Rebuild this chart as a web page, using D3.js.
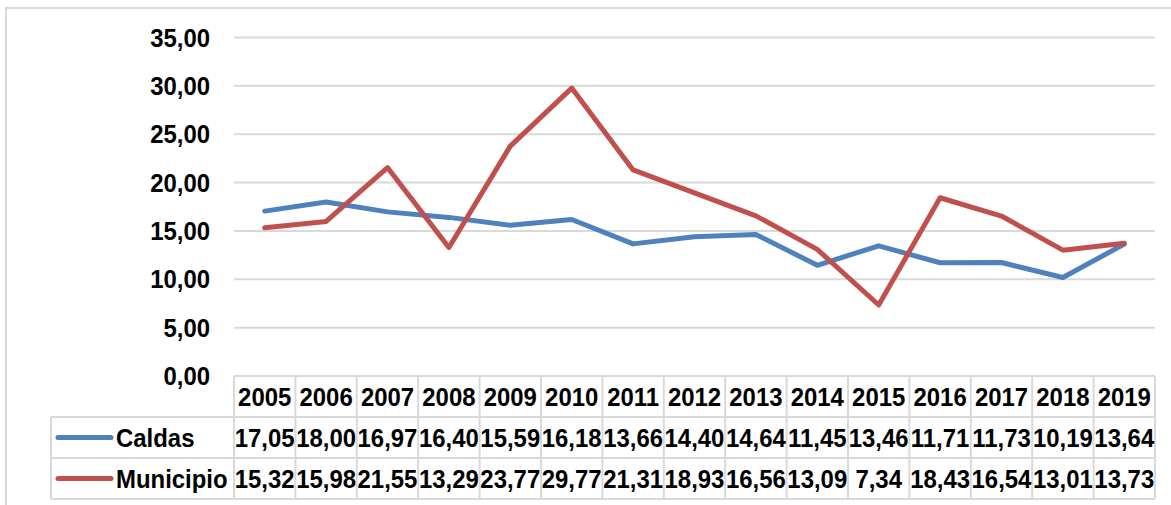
<!DOCTYPE html>
<html>
<head>
<meta charset="utf-8">
<script src="https://cdn.jsdelivr.net/npm/d3@7"></script>
<style>
    body { margin: 0; background: #fff; }
    text { font-family: "Liberation Sans", Arial, sans-serif; font-weight: bold; fill: #000; }
</style>
</head>
<body>
<div id="container"></div>
<script>
    // Data
    let years = ["2005", "2006", "2007", "2008", "2009", "2010", "2011", "2012", "2013", "2014", "2015", "2016", "2017", "2018", "2019"];
    let caldas = [17.05, 18.00, 16.97, 16.40, 15.59, 16.18, 13.66, 14.40, 14.64, 11.45, 13.46, 11.71, 11.73, 10.19, 13.64];
    let municipio = [15.32, 15.98, 21.55, 13.29, 23.77, 29.77, 21.31, 18.93, 16.56, 13.09, 7.34, 18.43, 16.54, 13.01, 13.73];
    let seriesNames = ["Caldas", "Municipio"];
    let seriesColors = ["#4f81bd", "#c0504d"];
    let yTicks = [0, 5, 10, 15, 20, 25, 30, 35];

    let series = [caldas, municipio];

    let width = 1171, height = 505;
    let svg = d3.select("#container")
        .append("svg")
        .attr("width", width)
        .attr("height", height);

    let locale = d3.formatLocale({ decimal: ",", thousands: ".", grouping: [3], currency: ["", ""] });
    let fmt = locale.format(".2f");

    let x = d3.scaleBand().domain(years).range([234, 1155]);
    let y = d3.scaleLinear().domain([0, 35]).range([376, 37.5]);

    let gridColor = "#d9d9d9";

    // chart border
    svg.append("rect")
        .attr("x", 6).attr("y", 8)
        .attr("width", 1300).attr("height", 600)
        .attr("fill", "none")
        .attr("stroke", gridColor)
        .attr("stroke-width", 2);

    // gridlines
    svg.selectAll(".grid")
        .data(yTicks.filter(d => d > 0))
        .enter()
        .append("line")
        .attr("x1", 234).attr("x2", 1155)
        .attr("y1", d => y(d)).attr("y2", d => y(d))
        .attr("stroke", gridColor)
        .attr("stroke-width", 2);

    // y labels
    svg.selectAll(".ylab")
        .data(yTicks)
        .enter()
        .append("text")
        .attr("x", 210)
        .attr("y", d => y(d))
        .attr("dy", "0.35em")
        .attr("text-anchor", "end")
        .attr("font-size", 26)
        .text(d => fmt(d));

    // data table
    let rowTop = [376, 417, 458, 499];
    let table = svg.append("g");

    // horizontal lines
    table.append("line")
        .attr("x1", 234).attr("x2", 1155)
        .attr("y1", rowTop[0]).attr("y2", rowTop[0])
        .attr("stroke", gridColor).attr("stroke-width", 2);
    for (let i = 1; i < rowTop.length; i++) {
        table.append("line")
            .attr("x1", 51).attr("x2", 1155)
            .attr("y1", rowTop[i]).attr("y2", rowTop[i])
            .attr("stroke", gridColor).attr("stroke-width", 2);
    }
    // vertical lines
    let bounds = years.map(d => x(d)).concat([x.range()[1]]);
    table.selectAll(".vline")
        .data(bounds)
        .enter()
        .append("line")
        .attr("x1", d => d).attr("x2", d => d)
        .attr("y1", rowTop[0]).attr("y2", rowTop[3])
        .attr("stroke", gridColor).attr("stroke-width", 2);
    table.append("line")
        .attr("x1", 51).attr("x2", 51)
        .attr("y1", rowTop[1]).attr("y2", rowTop[3])
        .attr("stroke", gridColor).attr("stroke-width", 2);

    // header years
    table.selectAll(".year")
        .data(years)
        .enter()
        .append("text")
        .attr("x", d => x(d) + x.bandwidth() / 2)
        .attr("y", (rowTop[0] + rowTop[1]) / 2)
        .attr("dy", "0.35em")
        .attr("text-anchor", "middle")
        .attr("font-size", 26)
        .text(d => d);

    // series rows
    series.forEach((vals, si) => {
        let cy = (rowTop[si + 1] + rowTop[si + 2]) / 2;
        table.append("line")
            .attr("x1", 58).attr("x2", 111)
            .attr("y1", cy).attr("y2", cy)
            .attr("stroke", seriesColors[si])
            .attr("stroke-width", 5)
            .attr("stroke-linecap", "round");
        table.append("text")
            .attr("x", 116)
            .attr("y", cy)
            .attr("dy", "0.35em")
            .attr("font-size", 26)
            .text(seriesNames[si]);
        table.selectAll(".v" + si)
            .data(vals)
            .enter()
            .append("text")
            .attr("x", (d, i) => x(years[i]) + x.bandwidth() / 2)
            .attr("y", cy)
            .attr("dy", "0.35em")
            .attr("text-anchor", "middle")
            .attr("font-size", 26)
            .text(d => fmt(d));
    });

    // narrow the text to a Calibri-like width
    svg.selectAll("text").each(function() {
        let w = this.getComputedTextLength();
        d3.select(this)
            .attr("textLength", w * 0.92)
            .attr("lengthAdjust", "spacingAndGlyphs");
    });

    // lines
    let line = d3.line()
        .x((d, i) => x(years[i]) + x.bandwidth() / 2)
        .y(d => y(d));

    series.forEach((vals, si) => {
        svg.append("path")
            .datum(vals)
            .attr("d", line)
            .attr("fill", "none")
            .attr("stroke", seriesColors[si])
            .attr("stroke-width", 5)
            .attr("stroke-linejoin", "round")
            .attr("stroke-linecap", "round");
    });
</script>
</body>
</html>
